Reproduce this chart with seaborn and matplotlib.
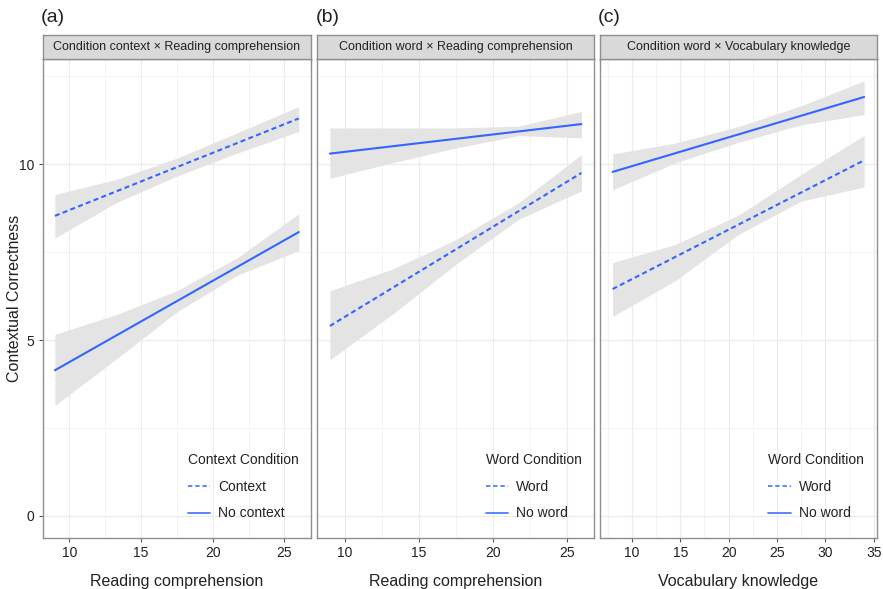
import pandas as pd
import matplotlib
matplotlib.use("Agg")
import matplotlib.pyplot as plt
import seaborn as sns
from matplotlib.ticker import MultipleLocator

sns.set_theme(style="white")
plt.rcParams['font.family'] = ['Liberation Sans', 'DejaVu Sans']

############# DATA ##################

panel_tags = ['(a)', '(b)', '(c)']
strip_titles = ['Condition context \u00d7 Reading comprehension',
                'Condition word \u00d7 Reading comprehension',
                'Condition word \u00d7 Vocabulary knowledge']
x_titles = ['Reading comprehension', 'Reading comprehension', 'Vocabulary knowledge']
legend_titles = ['Context Condition', 'Word Condition', 'Word Condition']
dashed_names = ['Context', 'Word', 'Word']
solid_names = ['No context', 'No word', 'No word']

# fitted line end points (x range of the predictor)
x_ends_a = [9, 26]
x_ends_b = [9, 26]
x_ends_c = [8, 34]

fit_dashed_a = [8.53, 11.30]
fit_solid_a = [4.14, 8.07]
fit_dashed_b = [5.40, 9.75]
fit_solid_b = [10.30, 11.14]
fit_dashed_c = [6.45, 10.11]
fit_solid_c = [9.78, 11.91]

# confidence bands read at a few x positions
band_x_a = [9, 13.25, 17.5, 21.75, 26]
band_x_b = [9, 13.25, 17.5, 21.75, 26]
band_x_c = [8, 14.5, 21, 27.5, 34]

lo_dashed_a = [7.90, 8.90, 9.66, 10.32, 10.93]
hi_dashed_a = [9.14, 9.56, 10.17, 10.90, 11.64]
lo_solid_a = [3.14, 4.45, 5.80, 6.85, 7.54]
hi_solid_a = [5.16, 5.72, 6.40, 7.35, 8.59]

lo_dashed_b = [4.44, 5.74, 7.15, 8.43, 9.24]
hi_dashed_b = [6.40, 7.02, 7.85, 8.90, 10.27]
lo_solid_b = [9.60, 10.04, 10.46, 10.81, 10.75]
hi_solid_b = [11.03, 11.03, 11.03, 11.08, 11.50]

lo_dashed_c = [5.67, 6.69, 8.00, 8.95, 9.35]
hi_dashed_c = [7.20, 7.72, 8.55, 9.71, 10.82]
lo_solid_c = [9.27, 10.04, 10.62, 11.12, 11.41]
hi_solid_c = [10.29, 10.60, 11.07, 11.66, 12.37]

x_limits = [(8.15, 26.85), (8.15, 26.85), (6.7, 35.3)]
y_limits = (-0.62, 12.99)

############# PLOT ##################

W, H = 883, 589
fig = plt.figure(figsize=(W / 100, H / 100), dpi=100)

# pixel boxes of the panels: left, right
panel_px = [(42.7, 311.0), (317.3, 594.0), (600.0, 876.7)]
top_px, bottom_px, strip_top_px = 59.0, 537.7, 34.5

line_col = '#3366FF'
band_col = '#E4E4E4'
border_col = '#8F8F8F'
text_col = '#222222'

panels = [
    (x_ends_a, fit_dashed_a, fit_solid_a, band_x_a, lo_dashed_a, hi_dashed_a, lo_solid_a, hi_solid_a),
    (x_ends_b, fit_dashed_b, fit_solid_b, band_x_b, lo_dashed_b, hi_dashed_b, lo_solid_b, hi_solid_b),
    (x_ends_c, fit_dashed_c, fit_solid_c, band_x_c, lo_dashed_c, hi_dashed_c, lo_solid_c, hi_solid_c),
]

for i, (xe, fd, fs, bx, lod, hid, los, his) in enumerate(panels):
    l, r = panel_px[i]
    ax = fig.add_axes([l / W, 1 - bottom_px / H, (r - l) / W, (bottom_px - top_px) / H])
    st = fig.add_axes([l / W, 1 - top_px / H, (r - l) / W, (top_px - strip_top_px) / H])

    ax.fill_between(bx, lod, hid, color=band_col, lw=0, zorder=1)
    ax.fill_between(bx, los, his, color=band_col, lw=0, zorder=1)

    df = pd.DataFrame({
        'x': list(xe) + list(xe),
        'y': list(fd) + list(fs),
        'grp': [dashed_names[i]] * 2 + [solid_names[i]] * 2,
    })
    sns.lineplot(data=df, x='x', y='y', style='grp',
                 dashes={dashed_names[i]: (2.4, 1.6), solid_names[i]: ''},
                 color=line_col, lw=1.5, ax=ax, zorder=3)

    ax.set_xlim(*x_limits[i])
    ax.set_ylim(*y_limits)
    ax.xaxis.set_major_locator(MultipleLocator(5))
    ax.xaxis.set_minor_locator(MultipleLocator(2.5))
    ax.yaxis.set_major_locator(MultipleLocator(5))
    ax.yaxis.set_minor_locator(MultipleLocator(2.5))
    ax.grid(which='major', color='#EBEBEB', lw=0.8, zorder=0)
    ax.grid(which='minor', color='#F3F3F3', lw=0.6, zorder=0)
    ax.set_axisbelow(True)
    for s in ax.spines.values():
        s.set_color(border_col)
        s.set_linewidth(1.0)

    ax.tick_params(axis='x', which='major', bottom=True, length=3, width=0.8,
                   color='#555555', labelsize=10, labelcolor=text_col, pad=3)
    ax.tick_params(axis='both', which='minor', length=0)
    if i == 0:
        ax.tick_params(axis='y', which='major', left=True, length=3, width=0.8,
                       color='#555555', labelsize=10, labelcolor=text_col, pad=3)
        ax.set_ylabel('Contextual Correctness', fontsize=11.5, color=text_col)
        ax.yaxis.set_label_coords(-0.078, 0.5)
    else:
        ax.set_yticklabels([])
        ax.tick_params(axis='y', which='major', left=False, length=0)
        ax.set_ylabel('')
    ax.set_xlabel(x_titles[i], fontsize=11.5, color=text_col, labelpad=10)

    leg = ax.legend(title=legend_titles[i], loc='lower right', frameon=False,
                    fontsize=10, title_fontsize=10, handlelength=1.6,
                    labelspacing=0.9, handletextpad=0.6,
                    bbox_to_anchor=(1.0, 0.01), alignment='left')
    for h in leg.get_lines():
        h.set_alpha(0.85)
        h.set_linewidth(1.3)
    leg.get_title().set_color(text_col)
    for t in leg.get_texts():
        t.set_color(text_col)

    st.set_facecolor('#D9D9D9')
    st.set_xticks([])
    st.set_yticks([])
    for s in st.spines.values():
        s.set_color(border_col)
        s.set_linewidth(1.0)
    st.text(0.5, 0.48, strip_titles[i], ha='center', va='center',
            fontsize=9, color=text_col, transform=st.transAxes)

    fig.text(l / W - 0.002, 1 - 17.5 / H, panel_tags[i], ha='left', va='center',
             fontsize=14, color=text_col)

fig.savefig('out.png', dpi=100)
